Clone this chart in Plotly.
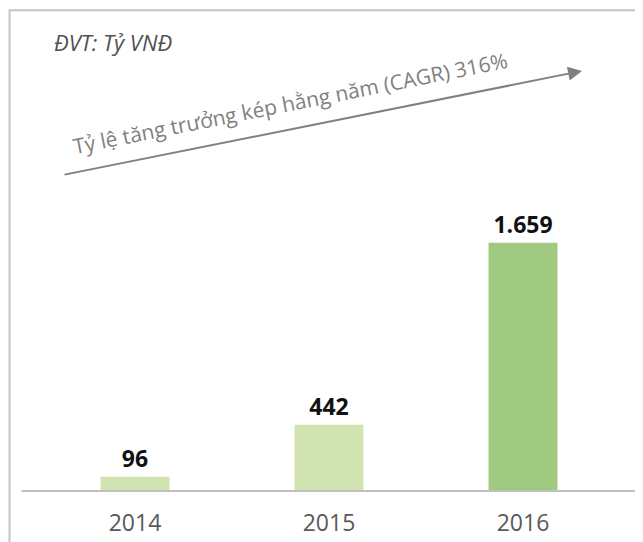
import plotly.graph_objects as go

years = ["2014", "2015", "2016"]
values = [96, 442, 1659]
bar_colors = ["#d0e3b0", "#d0e3b0", "#9ec97f"]
unit_label = "ĐVT: Tỷ VNĐ"
cagr_label = "Tỷ lệ tăng trưởng kép hằng năm (CAGR) 316%"

W, H = 643, 542
OFF = 8  # page body margin
L, T = 37.5 - OFF, 60 - OFF
pw, ph = 582.5, 434
R = W - L - pw
B = H - T - ph


def px(x):
    return (x - OFF - L) / pw


def py(y):
    return (T + ph - (y - OFF)) / ph


fig = go.Figure(
    go.Bar(
        x=years,
        y=values,
        marker=dict(color=bar_colors, line=dict(width=0)),
        width=0.355,
        texttemplate="%{y:,}",
        textposition="outside",
        textfont=dict(family="Open Sans", size=23, color="#111111", weight="bold"),
        cliponaxis=False,
        hoverinfo="skip",
    )
)

fig.update_layout(
    width=W,
    height=H,
    margin=dict(l=L, r=R, t=T, b=B),
    paper_bgcolor="white",
    plot_bgcolor="white",
    separators=",.",
    showlegend=False,
    font=dict(family="Open Sans"),
    xaxis=dict(
        showline=False,
        showgrid=False,
        zeroline=False,
        ticks="",
        tickfont=dict(family="Open Sans", size=23, color="#595959"),
        ticklabelstandoff=16,
    ),
    yaxis=dict(
        visible=False,
        range=[0, 1659 * ph / 250],
    ),
    shapes=[
        dict(type="rect", xref="paper", yref="paper",
             x0=px(9), x1=px(700), y0=py(700), y1=py(10),
             line=dict(color="#c4c4c4", width=2), layer="below"),
        dict(type="line", xref="paper", yref="paper",
             x0=px(21), x1=px(638), y0=py(494), y1=py(494),
             line=dict(color="#c0c0c0", width=2)),
    ],
    annotations=[
        dict(text=unit_label, xref="paper", yref="paper",
             x=px(52), y=py(42), xanchor="left", yanchor="middle",
             showarrow=False,
             font=dict(family="Open Sans", size=22, color="#505050", style="italic")),
        dict(text="", xref="paper", yref="paper",
             x=px(582), y=py(71), ax=63 - 582, ay=175 - 71,
             showarrow=True, arrowhead=2, arrowsize=1.4, arrowwidth=2,
             arrowcolor="#808080"),
        dict(text=cagr_label, xref="paper", yref="paper",
             x=px(290), y=py(103), xanchor="center", yanchor="middle",
             textangle=-11.3, showarrow=False,
             font=dict(family="Open Sans", size=21, color="#808080")),
    ],
)

fig.write_html("out.html")
